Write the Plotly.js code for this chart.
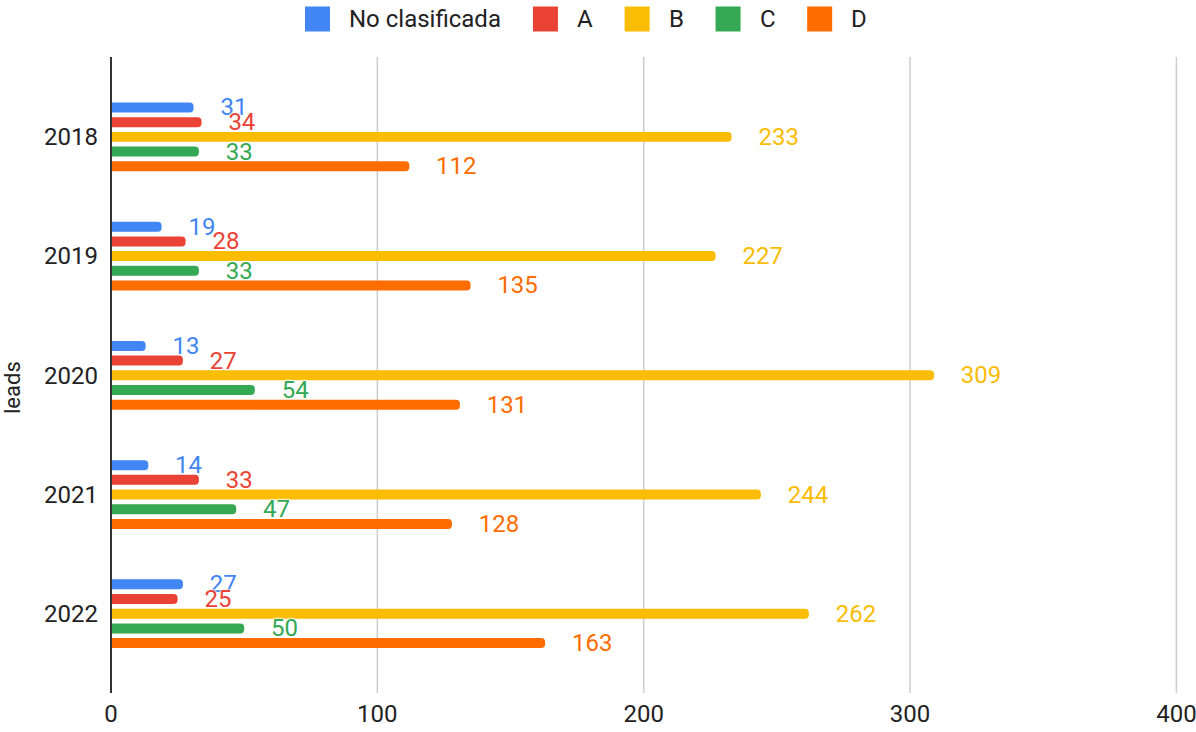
<!DOCTYPE html>
<html><head><meta charset="utf-8">
<script src="https://cdn.plot.ly/plotly-3.0.1.min.js"></script>
<style>html,body{margin:0;padding:0;background:#fff}#chart{width:1196px;height:732px}</style>
</head><body><div id="chart"></div>
<script>
const years = ['2018','2019','2020','2021','2022'];
const seriesNames = ['No clasificada','A','B','C','D'];
const noClasificada = [31,19,13,14,27];
const serieA = [34,28,27,33,25];
const serieB = [233,227,309,244,262];
const serieC = [33,33,54,47,50];
const serieD = [112,135,131,128,163];
const xTicks = [0,100,200,300,400];
const colors = ['#4285F4','#EA4335','#FBBC04','#34A853','#FF6D01'];
const allSeries = [noClasificada, serieA, serieB, serieC, serieD];

const FONT = 'Roboto, Arial, sans-serif';
const W = 1196, H = 732;
const M = {l:111, r:18, t:57, b:39};
const PW = W - M.l - M.r, PH = H - M.t - M.b;
const px2x = px => (px - M.l) / PW;
const py2y = py => (H - M.b - py) / PH;

const pad = '\u00a0\u00a0\u00a0\u00a0';
const traces = allSeries.map((vals,i)=>({
  type:'bar', orientation:'h', name:seriesNames[i], showlegend:false,
  y: years, x: vals,
  marker:{color:colors[i], cornerradius:5},
  text: vals.map(v=>pad+v), textposition:'outside', constraintext:'none', cliponaxis:false,
  textfont:{family:FONT, size:24, color:colors[i], shadow:'0 0 2px #fff, 0 0 2px #fff, 0 0 3px #fff'},
  hoverinfo:'x+name'
}));

// custom legend (large rounded swatches like the original)
const ctx = document.createElement('canvas').getContext('2d');
ctx.font = '24px Roboto';
const shapes = [];
xTicks.forEach(t=>{ if(t>0) shapes.push({type:'line', xref:'x', yref:'paper', x0:t, x1:t, y0:0, y1:1, layer:'below', line:{color:'#cccccc', width:1.5}}); });
shapes.push({type:'line', xref:'paper', yref:'paper', x0:0, x1:0, y0:0, y1:1, line:{color:'#333', width:2}});
const annotations = [];
let cx = 305; const sw = 25, legCy = 19;
seriesNames.forEach((nm,i)=>{
  const x0 = cx, x1 = cx + sw, y0 = legCy - sw/2, y1 = legCy + sw/2;
  const X = px2x, Y = py2y;
  shapes.push({type:'rect', xref:'paper', yref:'paper', x0:X(x0), x1:X(x1), y0:Y(y1), y1:Y(y0),
    fillcolor:colors[i], line:{width:0}, layer:'above'});
  const tx = x1 + 17;
  annotations.push({xref:'paper', yref:'paper', x:X(tx), y:Y(legCy), xanchor:'left', yanchor:'middle',
    text:nm, showarrow:false, font:{family:FONT, size:24, color:'#222'}});
  cx = tx + ctx.measureText(nm).width + 34;
});
annotations.push({xref:'paper', yref:'paper', x:0, y:py2y(388), xshift:-98, xanchor:'center', yanchor:'middle',
  text:'leads', textangle:-90, showarrow:false, borderpad:0, font:{family:FONT, size:22, color:'#222'}});

const layout = {
  width:W, height:H, margin:M,
  paper_bgcolor:'#fff', plot_bgcolor:'#fff',
  font:{family:FONT, size:24, color:'#222'},
  barmode:'group', bargap:0.384, bargroupgap:0.32,
  showlegend:false,
  xaxis:{range:[0,400.6], tickvals:xTicks, ticktext:xTicks.map(String), showgrid:false,
         zeroline:false, showline:false, ticks:'', ticklabelstandoff:4, ticklabeloverflow:'allow', tickfont:{size:24,color:'#222'}},
  yaxis:{type:'category', categoryorder:'array', categoryarray:years, range:[4.665,-0.67], showgrid:false, zeroline:false,
         showline:false, ticks:'', ticklabelstandoff:12, tickfont:{size:24,color:'#222'}},
  shapes:shapes, annotations:annotations
};
Plotly.newPlot('chart', traces, layout, {displayModeBar:false, staticPlot:true});
</script></body></html>
